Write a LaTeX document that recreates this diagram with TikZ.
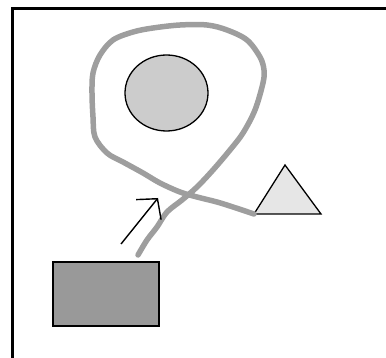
\documentclass[tikz,border=0pt]{standalone}
\usetikzlibrary{arrows.meta,shapes.geometric}
\definecolor{ink}{HTML}{000000}
\definecolor{rockfill}{HTML}{CCCCCC}
\definecolor{goalfill}{HTML}{E6E6E6}
\definecolor{startfill}{HTML}{999999}
\definecolor{trail}{HTML}{9E9E9E}

\begin{document}
\begin{tikzpicture}[x=1pt,y=-1pt,>={Straight Barb[length=14pt,width=32pt]},
  obstacle/.style={draw=ink,line width=1.3pt,inner sep=0pt},
  path trail/.style={trail,line width=5.5pt,line cap=round,line join=round}]
  \useasboundingbox (0,0) rectangle (386,358);
  \draw[ink,line width=3pt] (12.5,358) |- (386,8.5);
  \node[obstacle,ellipse,fill=rockfill,minimum width=83pt,minimum height=76pt] (rock) at (166.5,93) {};
  \node[obstacle,rectangle,fill=startfill,minimum width=106pt,minimum height=64pt] (start) at (106,294) {};
  \coordinate (goaltop) at (285,165);
  \coordinate (goalleft) at (254,214);
  \coordinate (goalright) at (321,214);
  \draw[obstacle,fill=goalfill,line join=miter] (goalleft) -- (goaltop) -- (goalright) -- cycle;
  \coordinate (trailstart) at (138,255);
  \draw[path trail] plot[smooth,tension=0.55] coordinates {(trailstart) (147,240) (157,227) (167,212) (182,200) (197,187) (213,170) (230,150) (243,133) (255,110) (263,83) (264,70) (260,57) (247,40) (227,30) (207,25) (180,25) (153,28) (133,32) (113,40) (100,55) (93,73) (92,93) (93,117) (95,137) (107,153) (123,162) (143,173) (160,183) (180,192) (197,197) (217,202) (233,207) (goalleft)};
  \coordinate (dirtail) at (121,244);
  \coordinate (dirtip) at (158,198);
  \draw[->,ink,line width=1.4pt] (dirtail) -- (dirtip);
\end{tikzpicture}
\end{document}
